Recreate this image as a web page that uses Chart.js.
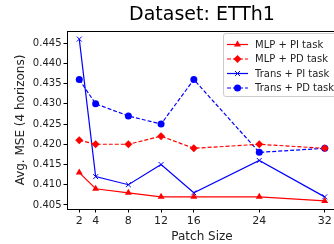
<!DOCTYPE html>
<html>
<head>
<meta charset="utf-8">
<script src="https://cdn.jsdelivr.net/npm/chart.js@4.4.0/dist/chart.umd.min.js"></script>
<style>
  html, body { margin: 0; padding: 0; background: #fff; overflow: hidden; }
  #wrap { width: 334px; height: 244px; overflow: hidden; }
  #box { width: 342px; height: 244px; }
</style>
</head>
<body>
<div id="wrap"><div id="box"><canvas id="mseChart"></canvas></div></div>
<script>
let patchSizes = [2, 4, 8, 12, 16, 24, 32];
let mlpPI = [0.413, 0.409, 0.408, 0.407, 0.407, 0.407, 0.406];
let mlpPD = [0.421, 0.420, 0.420, 0.422, 0.419, 0.420, 0.419];
let transPI = [0.446, 0.412, 0.410, 0.415, 0.408, 0.416, 0.407];
let transPD = [0.436, 0.430, 0.427, 0.425, 0.436, 0.418, 0.419];
let yTicks = [0.405, 0.410, 0.415, 0.420, 0.425, 0.430, 0.435, 0.440, 0.445];

const FONT = 'DejaVu Sans';

function points(values) {
    return patchSizes.map((x, i) => ({ x: x, y: values[i] }));
}

function makeSeries(label, values, color, style, radius, dashed) {
    return {
        label: label,
        data: points(values),
        borderColor: color,
        backgroundColor: color,
        borderWidth: 1.2,
        borderDash: dashed ? [4, 2] : [],
        pointStyle: style,
        pointRadius: radius,
        pointBorderWidth: style === 'crossRot' ? 1 : 0,
        pointBorderColor: color,
        pointBackgroundColor: color,
        tension: 0
    };
}

let datasets = [
    makeSeries('MLP + PI task', mlpPI, '#ff0000', 'triangle', 4, false),
    makeSeries('MLP + PD task', mlpPD, '#ff0000', 'rectRot', 4, true),
    makeSeries('Trans + PI task', transPI, '#0000ff', 'crossRot', 3.5, false),
    makeSeries('Trans + PD task', transPD, '#0000ff', 'circle', 3.5, true)
];

// title, top spine and in-plot legend, matplotlib style
const decorations = {
    id: 'decorations',
    afterDraw(chart) {
        let c = chart.ctx;
        let area = chart.chartArea;
        c.save();
        c.strokeStyle = '#000';
        c.lineWidth = 1;
        c.beginPath();
        c.moveTo(area.left, area.top + 0.5);
        c.lineTo(area.right, area.top + 0.5);
        c.stroke();

        c.fillStyle = '#000';
        c.font = '19px ' + FONT;
        c.textAlign = 'center';
        c.textBaseline = 'middle';
        c.fillText('Dataset: ETTh1', (area.left + area.right) / 2, 15.5);

        // legend box
        let bx = 223.5, by = 33.5, bw = 130, bh = 63;
        c.fillStyle = 'rgba(255,255,255,0.8)';
        c.strokeStyle = '#cccccc';
        c.beginPath();
        c.roundRect(bx, by, bw, bh, 2.5);
        c.fill();
        c.stroke();

        let rows = [44.5, 59, 73.5, 88];
        chart.data.datasets.forEach((ds, i) => {
            let y = rows[i];
            c.strokeStyle = ds.borderColor;
            c.lineWidth = ds.borderWidth;
            c.setLineDash(ds.borderDash);
            c.beginPath();
            c.moveTo(227, y);
            c.lineTo(248, y);
            c.stroke();
            c.setLineDash([]);
            c.fillStyle = ds.pointBackgroundColor;
            c.strokeStyle = ds.pointBorderColor;
            c.lineWidth = 1;
            Chart.helpers.drawPoint(c, {
                pointStyle: ds.pointStyle,
                radius: ds.pointRadius,
                rotation: 0,
                borderWidth: ds.pointBorderWidth
            }, 237.5, y);
            c.fillStyle = '#222';
            c.font = '10px ' + FONT;
            c.textAlign = 'left';
            c.textBaseline = 'middle';
            c.fillText(ds.label, 255, y + 0.5);
        });
        c.restore();
    }
};

let ctx = document.getElementById('mseChart').getContext('2d');
let mseChart = new Chart(ctx, {
    type: 'line',
    data: { datasets: datasets },
    options: {
        responsive: true,
        maintainAspectRatio: false,
        animation: false,
        layout: { padding: { top: 31, right: 0, left: 0, bottom: 0 } },
        plugins: {
            legend: { display: false },
            title: { display: false },
            tooltip: { enabled: false }
        },
        scales: {
            x: {
                type: 'linear',
                min: 0.5,
                max: 33.5,
                afterBuildTicks: scale => {
                    scale.ticks = patchSizes.map(v => ({ value: v }));
                },
                afterFit: scale => { scale.height = 35; },
                grid: { drawOnChartArea: false, drawTicks: true, tickLength: 3.5, color: '#000' },
                border: { color: '#000', width: 1 },
                ticks: {
                    color: '#222',
                    font: { family: FONT, size: 11 },
                    padding: 2,
                    maxRotation: 0,
                    autoSkip: false
                },
                title: {
                    display: true,
                    text: 'Patch Size',
                    color: '#222',
                    font: { family: FONT, size: 12 },
                    padding: { top: 0, bottom: 0 }
                }
            },
            y: {
                min: 0.404,
                max: 0.448,
                afterBuildTicks: scale => {
                    scale.ticks = yTicks.map(v => ({ value: v }));
                },
                afterFit: scale => { scale.width = 67; },
                grid: { drawOnChartArea: false, drawTicks: true, tickLength: 3.5, color: '#000' },
                border: { color: '#000', width: 1 },
                ticks: {
                    color: '#222',
                    font: { family: FONT, size: 10 },
                    padding: 2,
                    callback: value => value.toFixed(3)
                },
                title: {
                    display: true,
                    text: 'Avg. MSE (4 horizons)',
                    color: '#222',
                    font: { family: FONT, size: 12 },
                    padding: { top: 14, bottom: 0 }
                }
            }
        }
    },
    plugins: [decorations]
});
</script>
</body>
</html>
